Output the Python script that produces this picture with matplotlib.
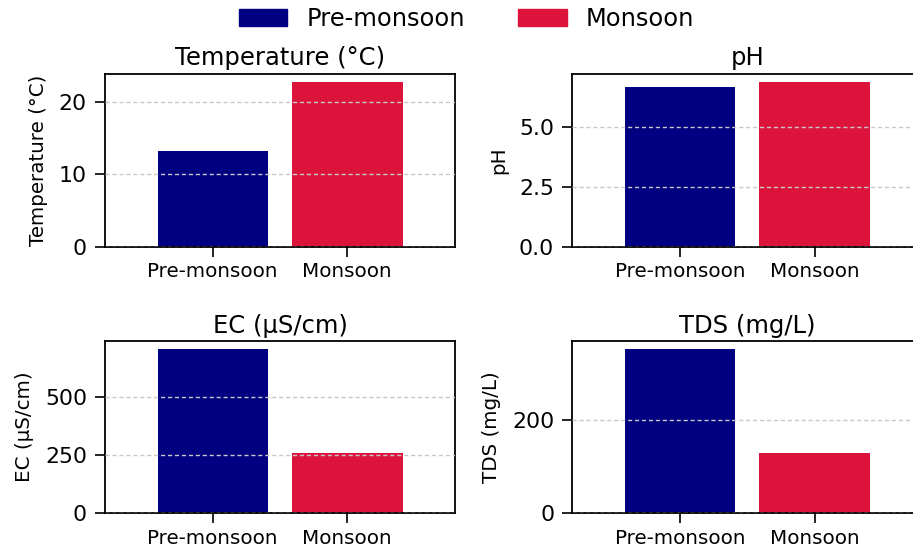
import matplotlib
matplotlib.use("Agg")
import matplotlib.pyplot as plt
from matplotlib.patches import Patch

seasons = ["Pre-monsoon", "Monsoon"]
colors = ["navy", "crimson"]
titles = ["Temperature (°C)", "pH", "EC (µS/cm)", "TDS (mg/L)"]
temperature = [13.3, 22.8]
ph = [6.7, 6.9]
ec = [703, 260]
tds = [352, 130]
yticks = [[0, 10, 20], [0.0, 2.5, 5.0], [0, 250, 500], [0, 200]]
ytick_labels = [["0", "10", "20"], ["0.0", "2.5", "5.0"], ["0", "250", "500"], ["0", "200"]]

series = [temperature, ph, ec, tds]

fig = plt.figure(figsize=(9.13, 5.52), dpi=100)
W, H = 913, 552
boxes = [
    (105, 73.7, 350, 173),
    (572.3, 73.7, 350, 173),
    (105, 341, 350, 172.3),
    (572.3, 341, 350, 172.3),
]
for i, (vals, title) in enumerate(zip(series, titles)):
    x0, y0, w, h = boxes[i]
    ax = fig.add_axes([x0 / W, 1 - (y0 + h) / H, w / W, h / H])
    ax.bar([0, 1], vals, width=0.82, color=colors)
    ax.set_xlim(-0.8, 1.8)
    ax.set_ylim(0, max(vals) * 1.05)
    ax.set_xticks([0, 1])
    ax.set_xticklabels(seasons, fontsize=14.3)
    ax.set_yticks(yticks[i])
    ax.set_yticklabels(ytick_labels[i], fontsize=15.8)
    ax.set_title(title, fontsize=17.5)
    ax.set_ylabel(title, fontsize=14.3, labelpad=8)
    ax.yaxis.grid(True, linestyle="--", color="#c8c8c8", linewidth=1, dashes=(3, 2))
    ax.set_axisbelow(False)
    ax.tick_params(length=7, width=1.2)
    ax.tick_params(axis="y", pad=6)
    ax.tick_params(axis="x", pad=4)
    for s in ax.spines.values():
        s.set_linewidth(1.3)

handles = [Patch(color=c) for c in colors]
fig.legend(handles, seasons, loc="upper center", bbox_to_anchor=(0.511, 1.027),
           ncol=2, frameon=False, fontsize=17.4, columnspacing=2.2)

fig.savefig("out.png", dpi=100)
